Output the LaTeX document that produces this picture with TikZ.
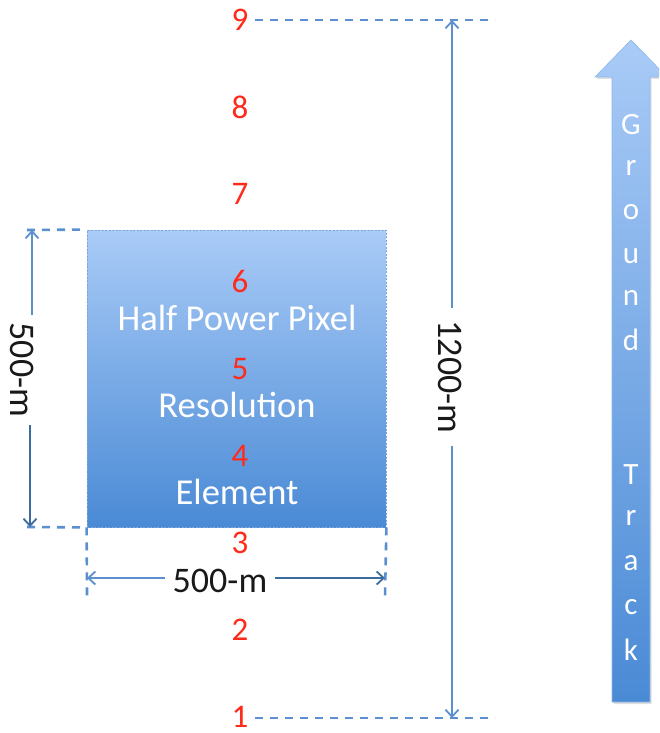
\documentclass[tikz,border=0pt]{standalone}
\usepackage{fontspec}
\setmainfont{Carlito}
\usetikzlibrary{arrows.meta,positioning,shadows}
\definecolor{dimblue}{HTML}{5B8FD0}
\definecolor{dimdark}{HTML}{3C6C9F}
\definecolor{boxtop}{HTML}{A9CBF7}
\definecolor{boxbot}{HTML}{4A8AD5}
\definecolor{numred}{HTML}{FF2A1A}

\tikzset{
  dimline/.style={dimblue, line width=2.6pt, dash pattern=on 8pt off 7pt},
  dimarrow/.style={line width=1.8pt, -{Straight Barb[length=7pt,width=13pt,line width=1.8pt]}},
  dimlabel/.style={font=\fontsize{36}{38}\selectfont, text=black!90, inner sep=8pt},
  numlabel/.style={font=\fontsize{33}{35}\selectfont, text=numred, inner sep=0pt},
  boxtext/.style={font=\fontsize{36.5}{38}\selectfont, text=white, inner sep=0pt},
  tracktext/.style={font=\fontsize{31}{33}\selectfont, text=white, inner sep=0pt}
}

\begin{document}
\begin{tikzpicture}[x=1pt,y=-1pt]
	\clip (0,0) rectangle (659,733);
	\useasboundingbox (0,0) rectangle (659,733);
	% pixel box
	\node (pix) [draw=dimblue!80, line width=0.8pt, dash pattern=on 2pt off 1.5pt,
	  top color=boxtop, bottom color=boxbot, minimum width=299pt, minimum height=297pt,
	  inner sep=0pt] at (236.5,378.5) {};
	% ground track arrow
	\shade[top color=boxtop, bottom color=boxbot, draw=boxtop!70!boxbot, line width=0.6pt,
	  drop shadow={opacity=0.25, shadow xshift=1.5pt, shadow yshift=-2pt}]
	  (612,702) -- (612,77) -- (595,77) -- (631,40) -- (667,77) -- (650,77) -- (650,702) -- cycle;
	\foreach \ch/\yy [count=\i] in {G/125, r/168, o/212, u/256, n/298, d/340, T/475, r/518, a/563, c/607, k/650}
		\node[tracktext] (gt\i) at (631,\yy) {\ch};
	% numbers 1..9
	\foreach \n in {1,...,9}
		\node[numlabel] (num\n) at (240,{717-(\n-1)*87.1}) {\n};
	\node[boxtext] (hpp) at (237,318) {Half Power Pixel};
	\node[boxtext] (res) at (237,405) {Resolution};
	\node[boxtext] (elm) at (237,492) {Element};
	% left dimension
	\coordinate (ltop) at (32,230);
	\coordinate (lbot) at (30,527);
	\coordinate (ltopend) at (27,230);
	\coordinate (lbotend) at (27,527);
	\draw[dimline] (ltopend) -- (pix.north west);
	\draw[dimline] (lbotend) -- (pix.south west);
	\node[dimlabel, rotate=-90] (l500) at (22,370) {500-m};
	\draw[dimarrow, dimblue] (ltop |- l500.west) -- (ltop);
	\draw[dimarrow, dimdark] (lbot |- l500.east) -- (lbot);
	% bottom dimension
	\coordinate (bl) at (87,578);
	\coordinate (br) at (385,578);
	\coordinate (bldash) at (87,597);
	\coordinate (brdash) at (385,597);
	\draw[dimline] (pix.south west) -- (bldash);
	\draw[dimline] (pix.south east) -- (brdash);
	\node[dimlabel] (b500) at (220,581) {500-m};
	\draw[dimarrow, dimblue] (b500.west |- bl) -- (bl);
	\draw[dimarrow, dimdark] (b500.east |- br) -- (br);
	% right dimension
	\coordinate (rtop) at (452,20);
	\coordinate (rbot) at (452,718);
	\coordinate (rtopa) at (255,20);
	\coordinate (rtopb) at (495,20);
	\coordinate (rbota) at (255,718);
	\coordinate (rbotb) at (495,718);
	\draw[dimline] (rtopa) -- (rtopb);
	\draw[dimline] (rbota) -- (rbotb);
	\node[dimlabel, rotate=-90, inner sep=12pt] (h1200) at (450,377) {1200-m};
	\draw[dimarrow, dimblue] (rtop |- h1200.west) -- (rtop);
	\draw[dimarrow, dimblue] (rbot |- h1200.east) -- (rbot);
\end{tikzpicture}
\end{document}
